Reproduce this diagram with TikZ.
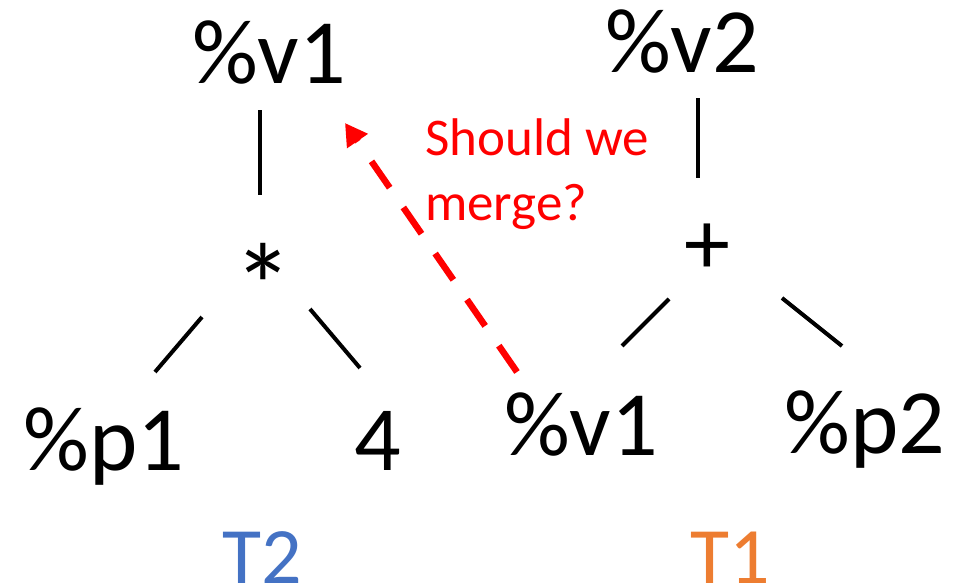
\documentclass[tikz,border=0pt]{standalone}
\usepackage{fontspec}
\setmainfont{Carlito}
\usetikzlibrary{arrows.meta, calc}
\definecolor{treeblue}{HTML}{4472C4}
\definecolor{treeorange}{HTML}{ED7D31}

\begin{document}
\begin{tikzpicture}[x=1pt, y=-1pt, >={Triangle[length=22pt,width=24pt]}]
    % Styles
    \tikzstyle{term} = [inner sep=0pt, anchor=base, font=\fontsize{92}{110}\selectfont]
    \tikzstyle{branch} = [draw, line width=4pt]
    \tikzstyle{merge} = [->, draw=red, line width=6.5pt, dash pattern=on 32pt off 24pt]
    \tikzstyle{tlabel} = [inner sep=0pt, anchor=base, font=\fontsize{80}{96}\selectfont]

    \useasboundingbox (0,0) rectangle (971,586);

    % Nodes: T2
    \node [term] (v1top) at (269,83) {\%v1};
    \node [term, font=\fontsize{120}{140}\selectfont] (mul) at (263,328) {*};
    \node [term] (p1) at (104,470) {\%p1};
    \node [term] (four) at (378,470) {4};
    \node [tlabel, text=treeblue] (t2) at (262,583) {T2};

    % Nodes: T1
    \node [term] (v2) at (682,73) {\%v2};
    \node [term] (plus) at (707,274) {+};
    \node [term] (v1bot) at (581,455) {\%v1};
    \node [term] (p2) at (865,453) {\%p2};
    \node [tlabel, text=treeorange] (t1) at (730,583) {T1};

    \node [inner sep=0pt, anchor=base west, align=left, text=red,
           font=\fontsize{53}{65}\selectfont] (ask) at (425,220) {Should we\\merge?};

    % Edges
    \draw [branch] ($(v1top.base)+(-9,27)$) -- ($(mul.base)+(-3,-133)$);
    \draw [branch] ($(mul.base)+(-61,-11)$) -- ($(p1.base)+(51,-98)$);
    \draw [branch] ($(mul.base)+(47,-19)$) -- ($(four.base)+(-18,-102)$);
    \draw [branch] ($(v2.base)+(16,25)$) -- ($(plus.base)+(-9,-96)$);
    \draw [branch] ($(plus.base)+(-38,25)$) -- ($(v1bot.base)+(41,-109)$);
    \draw [branch] ($(plus.base)+(75,24)$) -- ($(p2.base)+(-23,-107)$);

    % Arrows
    \draw [merge] ($(v1bot.base)+(-64,-83)$) -- ($(v1top.base)+(76,40)$);
\end{tikzpicture}
\end{document}
